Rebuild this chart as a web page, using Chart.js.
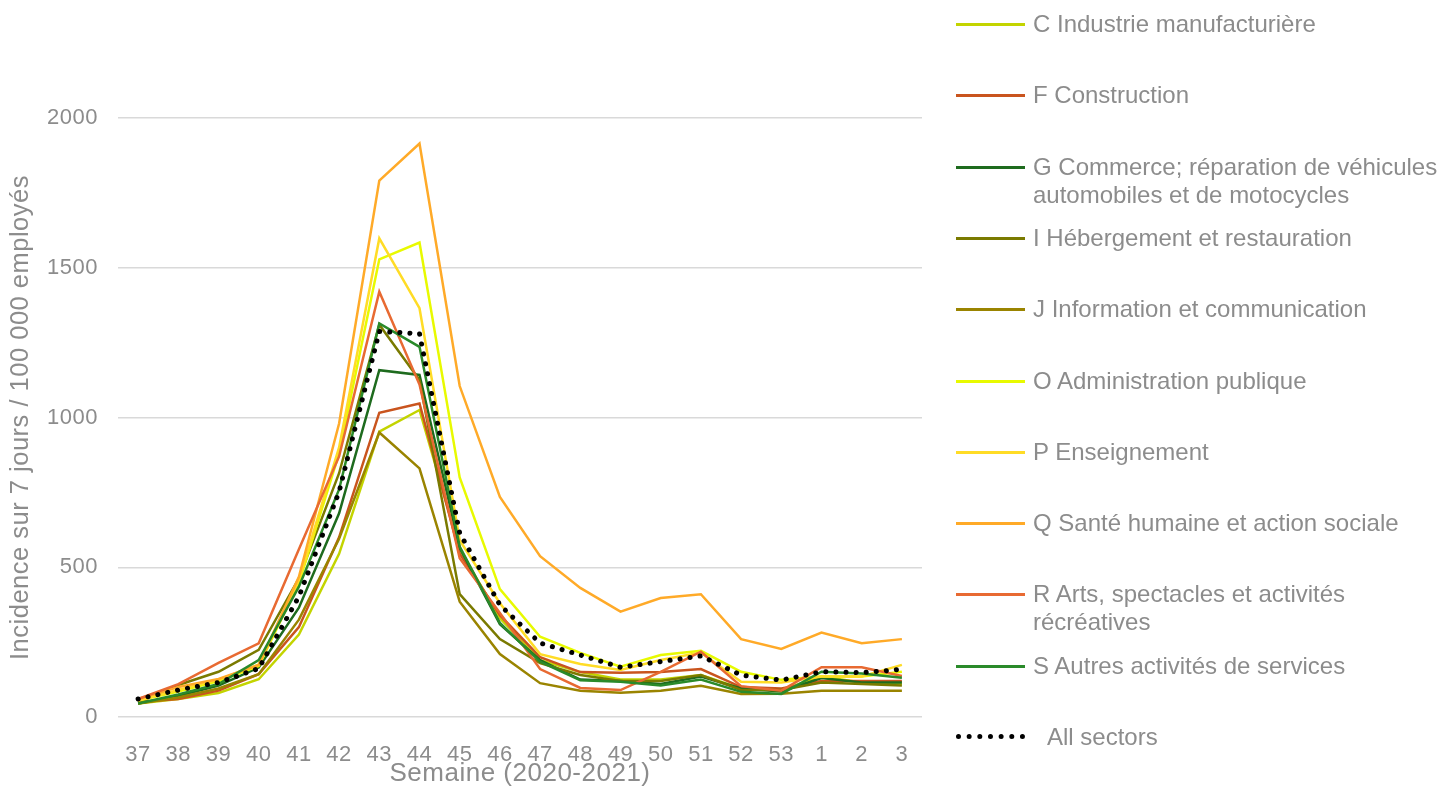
<!DOCTYPE html>
<html lang="fr">
<head>
  <meta charset="UTF-8">
  <title>Incidence par secteur</title>
  <script src="https://cdn.jsdelivr.net/npm/chart.js"></script>
  <style>
    html, body { margin: 0; padding: 0; background: #fff; }
    body { font-family: "Liberation Sans", Arial, sans-serif; }
    .wrap { position: relative; width: 1456px; height: 790px; }
    #legend { position: absolute; left: 0; top: 0; }
    .item { position: absolute; left: 956px; display: flex; align-items: flex-start; }
    .swatch { width: 69px; margin-top: 13px; margin-right: 8px; }
    .txt { color: #8c8c8c; font-size: 24px; line-height: 28px; white-space: nowrap; }
  </style>
</head>
<body>
  <div class="wrap">
    <canvas id="chart" width="1456" height="790"></canvas>
    <div id="legend"></div>
  </div>
  <script>
    // semaines
    const weeks = ['37','38','39','40','41','42','43','44','45','46','47','48','49','50','51','52','53','1','2','3'];

    // incidence sur 7 jours / 100 000 employés, par secteur
    const industrie   = [45, 60, 80, 126, 275, 545, 953, 1025, 560, 330, 190, 150, 125, 125, 140, 95, 90, 135, 115, 110];
    const construction = [50, 60, 88, 143, 300, 600, 1016, 1047, 545, 340, 200, 150, 148, 150, 160, 100, 95, 120, 120, 120];
    const commerce    = [45, 70, 105, 165, 365, 680, 1158, 1142, 565, 310, 190, 125, 120, 110, 135, 95, 85, 130, 115, 115];
    const hebergement = [50, 107, 151, 224, 463, 814, 1310, 1125, 410, 260, 180, 140, 120, 120, 140, 90, 90, 115, 110, 105];
    const information = [45, 65, 95, 143, 325, 595, 950, 830, 385, 210, 113, 88, 81, 88, 104, 77, 78, 88, 88, 88];
    const administration = [55, 85, 120, 170, 447, 880, 1528, 1584, 800, 427, 268, 214, 168, 207, 221, 151, 124, 135, 135, 151];
    const enseignement = [55, 90, 125, 175, 457, 900, 1598, 1365, 590, 380, 210, 177, 157, 190, 215, 118, 115, 135, 135, 174];
    const sante       = [60, 100, 127, 174, 468, 980, 1791, 1915, 1105, 735, 537, 431, 352, 397, 410, 260, 227, 282, 246, 260];
    const arts        = [60, 110, 181, 246, 560, 870, 1420, 1110, 530, 347, 160, 97, 90, 151, 218, 103, 88, 166, 166, 137];
    const autres      = [45, 75, 110, 190, 435, 760, 1314, 1236, 569, 314, 185, 123, 118, 105, 125, 84, 77, 151, 145, 131];
    const allSectors  = [60, 90, 115, 162, 402, 752, 1287, 1280, 614, 374, 247, 207, 166, 185, 204, 140, 123, 151, 148, 159];

    const yTicks = [0, 500, 1000, 1500, 2000];

    const labels = [
      ['C Industrie manufacturière'],
      ['F Construction'],
      ['G Commerce; réparation de véhicules', 'automobiles et de motocycles'],
      ['I Hébergement et restauration'],
      ['J Information et communication'],
      ['O Administration publique'],
      ['P Enseignement'],
      ['Q Santé humaine et action sociale'],
      ['R Arts, spectacles et activités', 'récréatives'],
      ['S Autres activités de services'],
      ['All sectors']
    ];
    const series = [industrie, construction, commerce, hebergement, information,
                    administration, enseignement, sante, arts, autres, allSectors];
    const colors = ['#c3d400', '#c9541e', '#1e6b1e', '#7a7a00', '#9a8400',
                    '#e8fa00', '#ffdc26', '#ffaa28', '#e86a32', '#2a8a2a', '#000000'];

    const grey = '#8c8c8c';
    const font = '"Liberation Sans", Arial, sans-serif';

    const datasets = series.map((data, i) => {
      const isAll = i === series.length - 1;
      return {
        label: labels[i].join(' '),
        data: data,
        borderColor: colors[i],
        backgroundColor: colors[i],
        borderWidth: isAll ? 5 : 2.5,
        borderDash: isAll ? [0.1, 10] : [],
        borderCapStyle: isAll ? 'round' : 'butt',
        pointRadius: 0,
        fill: false,
        tension: 0,
        order: isAll ? 0 : series.length - i
      };
    });

    // un peu d'espacement entre les lettres, comme dans l'original
    const spacing = {
      id: 'spacing',
      beforeLayout: chart => { chart.ctx.letterSpacing = '0.5px'; },
      beforeDraw: chart => { chart.ctx.letterSpacing = '0.5px'; }
    };

    new Chart(document.getElementById('chart'), {
      type: 'line',
      data: { labels: weeks, datasets: datasets },
      plugins: [spacing],
      options: {
        responsive: false,
        animation: false,
        layout: { padding: { top: 118, right: 534, bottom: 0, left: 0 } },
        plugins: { legend: { display: false }, tooltip: { enabled: false } },
        scales: {
          x: {
            offset: true,
            grid: { display: false },
            border: { display: false },
            ticks: { color: grey, font: { family: font, size: 22 }, padding: 17, maxRotation: 0, autoSkip: false },
            title: { display: true, text: 'Semaine (2020-2021)', color: grey, font: { family: font, size: 26 }, padding: { top: 0, bottom: 1 } },
            afterFit: s => { s.height = 73; }
          },
          y: {
            min: 0,
            max: 2000,
            afterBuildTicks: s => { s.ticks = yTicks.map(v => ({ value: v })); },
            grid: { color: '#d9d9d9', lineWidth: 1.5, drawTicks: false },
            border: { display: false },
            ticks: { color: grey, font: { family: font, size: 22 }, padding: 20, callback: v => String(v) },
            title: { display: true, text: 'Incidence sur 7 jours / 100 000 employés', color: grey, font: { family: font, size: 25.5 }, padding: { top: 6, bottom: 0 } },
            afterFit: s => { s.width = 118; }
          }
        }
      }
    });

    // légende à droite
    const legend = document.getElementById('legend');
    labels.forEach((lines, i) => {
      const isAll = i === labels.length - 1;
      const item = document.createElement('div');
      item.className = 'item';
      item.style.top = (24 + i * 71.3 - 14) + 'px';
      const sw = document.createElement('div');
      sw.className = 'swatch';
      sw.style.borderTop = isAll ? '5px dotted #000' : '3px solid ' + colors[i];
      if (isAll) { sw.style.marginTop = '11px'; sw.style.marginRight = '22px'; }
      const txt = document.createElement('div');
      txt.className = 'txt';
      txt.innerHTML = lines.join('<br>');
      item.appendChild(sw);
      item.appendChild(txt);
      legend.appendChild(item);
    });
  </script>
</body>
</html>
